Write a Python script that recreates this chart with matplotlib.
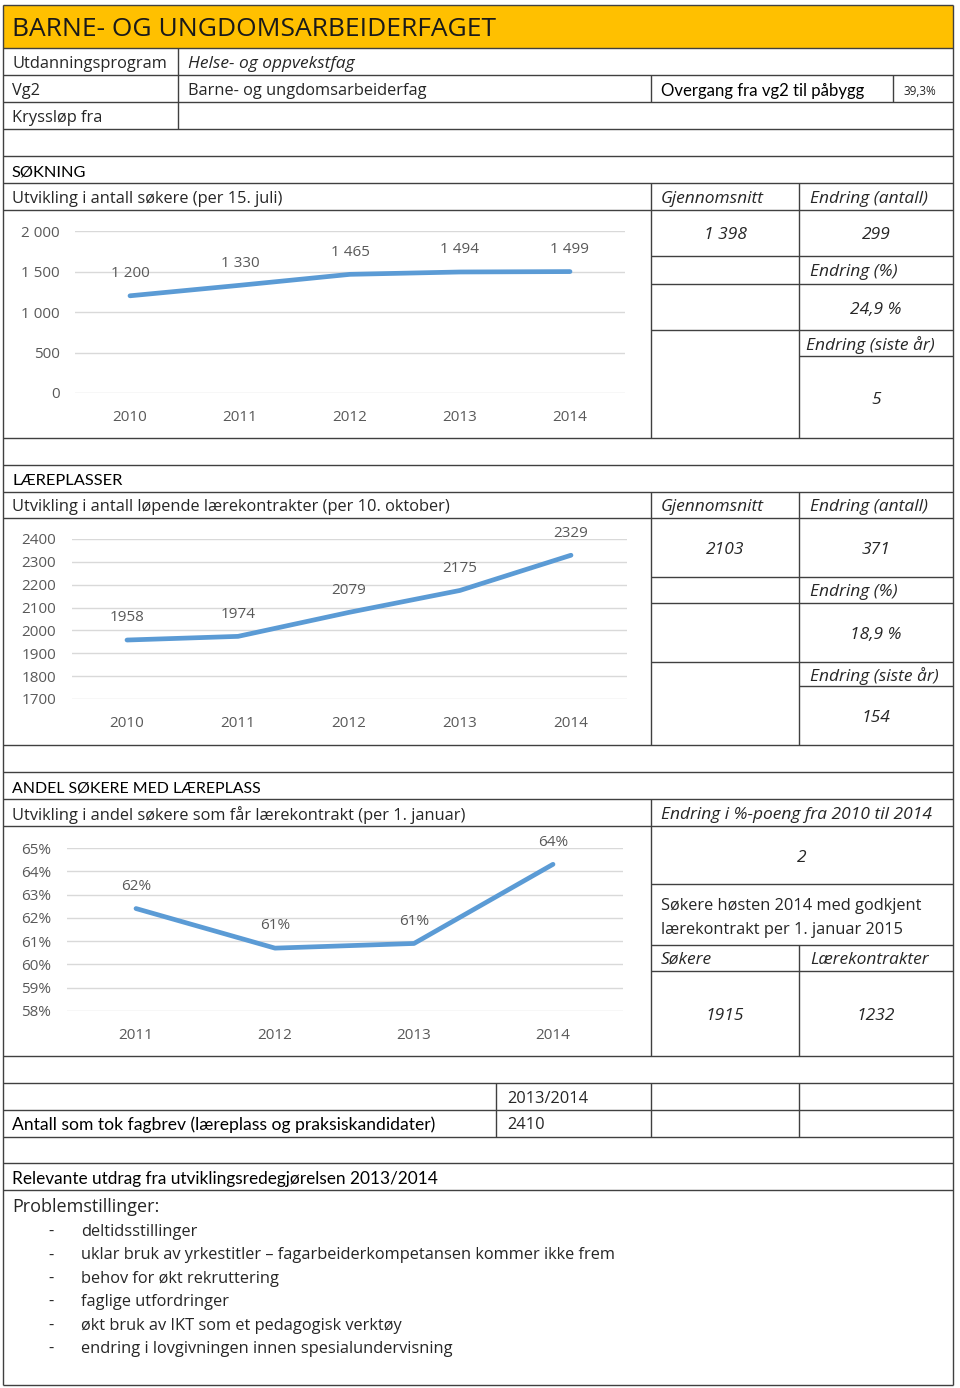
import matplotlib
matplotlib.use("Agg")
import matplotlib.pyplot as plt
from matplotlib.patches import Rectangle

# ---------------- data ----------------
years_sok = ["2010", "2011", "2012", "2013", "2014"]
sokere = [1200, 1330, 1465, 1494, 1499]
sok_ticks = [0, 500, 1000, 1500, 2000]

years_laer = ["2010", "2011", "2012", "2013", "2014"]
laerekontrakter = [1958, 1974, 2079, 2175, 2329]
laer_ticks = [1700, 1800, 1900, 2000, 2100, 2200, 2300, 2400]

years_andel = ["2011", "2012", "2013", "2014"]
andel = [62.4, 60.7, 60.9, 64.3]
andel_ticks = [58, 59, 60, 61, 62, 63, 64, 65]

bullets = [
    "deltidsstillinger",
    "uklar bruk av yrkestitler \u2013 fagarbeiderkompetansen kommer ikke frem",
    "behov for økt rekruttering",
    "faglige utfordringer",
    "økt bruk av IKT som et pedagogisk verktøy",
    "endring i lovgivningen innen spesialundervisning",
]

# ---------------- style ----------------
W, H = 960, 1388
BODY = "Open Sans"
HEAD = "Lato"
TXT = "#262626"
LINEC = "#404040"
BLUE = "#5B9BD5"
GRAY = "#595959"
GRID = "#D9D9D9"
FS = 11.8
FSI = 12.5
HS = 12.3
DY = 2

fig = plt.figure(figsize=(W / 100, H / 100), dpi=100)
bg = fig.add_axes([0, 0, 1, 1])
bg.set_xlim(0, W)
bg.set_ylim(H, 0)
bg.axis("off")

L, R = 3, 953


def hl(y, x0=L, x1=R):
    bg.plot([x0, x1], [y, y], color=LINEC, lw=1.0, solid_capstyle="butt", zorder=3)


def vl(x, y0, y1):
    bg.plot([x, x], [y0, y1], color=LINEC, lw=1.0, solid_capstyle="butt", zorder=3)


def t(x, y, s, size=None, italic=False, ha="left", family=BODY, color=TXT, **kw):
    if size is None:
        size = FSI if italic else FS
    bg.text(x, y + DY, s, fontsize=size, ha=ha, va="center", family=family,
            style="italic" if italic else "normal", color=color, **kw)


def hd(x, y, s, size=HS):
    t(x, y, s, size=size, family=HEAD, color="#000")


# title band
bg.add_patch(Rectangle((L, 5), R - L, 43, facecolor="#FFC000", edgecolor="none", zorder=1))
t(12, 27, "BARNE- OG UNGDOMSARBEIDERFAGET", size=19, color="#1a1a1a")

# outer frame
hl(5)
hl(1385)
vl(L, 5, 1385)
vl(R, 5, 1385)

# full-width row lines
for y in [48, 75, 102, 129, 156, 183, 210, 438, 465, 492, 518, 745, 772, 799, 826,
          1056, 1083, 1110, 1137, 1163, 1190]:
    hl(y)

# header rows
vl(178, 48, 129)
vl(651, 75, 102)
vl(893, 75, 102)
t(12, 62, "Utdanningsprogram")
t(188, 62, "Helse- og oppvekstfag", italic=True, size=12.5)
t(12, 89, "Vg2")
t(188, 89, "Barne- og ungdomsarbeiderfag")
hd(661, 89, "Overgang fra vg2 til påbygg", size=12.1)
t(903, 89, "39,3%", size=8.5)
t(12, 116, "Kryssløp fra")

# ---- section 1 : SØKNING ----
hd(12, 170, "SØKNING", size=11.8)
t(12, 197, "Utvikling i antall søkere (per 15. juli)")
t(661, 197, "Gjennomsnitt", italic=True)
t(810, 197, "Endring (antall)", italic=True)
vl(651, 183, 438)
vl(799, 183, 438)
hl(256, 651)
hl(284, 651)
hl(330, 651)
hl(356, 799)
t(725, 233, "1 398", italic=True, ha="center")
t(876, 233, "299", italic=True, ha="center")
t(810, 270, "Endring (%)", italic=True)
t(876, 308, "24,9 %", italic=True, ha="center")
t(806, 343, "Endring (siste år)", italic=True)
t(876, 398, "5", italic=True, ha="center")

# ---- section 2 : LÆREPLASSER ----
hd(12, 479, "LÆREPLASSER", size=11.8)
t(12, 505, "Utvikling i antall løpende lærekontrakter (per 10. oktober)")
t(661, 505, "Gjennomsnitt", italic=True)
t(810, 505, "Endring (antall)", italic=True)
vl(651, 492, 745)
vl(799, 492, 745)
hl(577, 651)
hl(603, 651)
hl(662, 651)
hl(686, 799)
t(725, 548, "2103", italic=True, ha="center")
t(876, 548, "371", italic=True, ha="center")
t(810, 590, "Endring (%)", italic=True)
t(876, 633, "18,9 %", italic=True, ha="center")
t(810, 674, "Endring (siste år)", italic=True)
t(876, 716, "154", italic=True, ha="center")

# ---- section 3 : ANDEL ----
hd(12, 786, "ANDEL SØKERE MED LÆREPLASS", size=11.4)
t(12, 813, "Utvikling i andel søkere som får lærekontrakt (per 1. januar)")
t(661, 813, "Endring i %-poeng fra 2010 til 2014", italic=True)
vl(651, 799, 1056)
vl(799, 945, 1056)
hl(884, 651)
hl(945, 651)
hl(971, 651)
t(802, 856, "2", italic=True, ha="center")
t(661, 904, "Søkere høsten 2014 med godkjent")
t(661, 928, "lærekontrakt per 1. januar 2015")
t(661, 958, "Søkere", italic=True)
t(810, 958, "Lærekontrakter", italic=True)
t(725, 1014, "1915", italic=True, ha="center")
t(876, 1014, "1232", italic=True, ha="center")

# ---- section 4 ----
vl(496, 1083, 1137)
vl(651, 1083, 1137)
vl(799, 1083, 1137)
t(507, 1097, "2013/2014")
hd(12, 1123, "Antall som tok fagbrev (læreplass og praksiskandidater)", size=12.6)
t(507, 1123, "2410")
hd(12, 1177, "Relevante utdrag fra utviklingsredegjørelsen 2013/2014", size=12.4)
t(12, 1205, "Problemstillinger:", size=13.0)
for i, b in enumerate(bullets):
    y = 1230 + 23.4 * i
    t(48, y, "-")
    t(81, y, b)


# ---------------- charts ----------------
def chart(x0, x1, ytop, ybot, cats, vals, ticks, ylim, tickfmt, labfmt):
    ax = fig.add_axes([x0 / W, 1 - ybot / H, (x1 - x0) / W, (ybot - ytop) / H])
    n = len(cats)
    xs = list(range(n))
    ax.set_xlim(-0.5, n - 0.5)
    ax.set_ylim(*ylim)
    ax.set_yticks(ticks)
    ax.set_yticklabels([tickfmt(v) for v in ticks])
    ax.set_xticks(xs)
    ax.set_xticklabels(cats)
    for v in ticks:
        ax.axhline(v, color=GRID, lw=1.0, zorder=1)
    for s in ax.spines.values():
        s.set_visible(False)
    ax.tick_params(length=0, colors=GRAY, labelsize=11)
    ax.tick_params(axis="y", pad=11)
    ax.tick_params(axis="x", pad=12)
    for lab in ax.get_xticklabels() + ax.get_yticklabels():
        lab.set_family(BODY)
    ax.patch.set_alpha(0)
    ax.plot(xs, vals, color=BLUE, lw=3.4, solid_capstyle="round", zorder=3, clip_on=False)
    for xi, v in zip(xs, vals):
        ax.annotate(labfmt(v), (xi, v), xytext=(0, 16), textcoords="offset points",
                    ha="center", va="center", fontsize=11, color=GRAY, family=BODY,
                    annotation_clip=False)
    return ax


def sp(v):
    return format(int(v), ",").replace(",", " ")


chart(75, 625, 231, 393, years_sok, sokere, sok_ticks, (0, 2000), sp, sp)
chart(71.5, 626.5, 539, 699, years_laer, laerekontrakter, laer_ticks, (1700, 2400),
      lambda v: str(v), lambda v: str(v))
chart(66.5, 622.5, 848, 1011, years_andel, andel, andel_ticks, (58, 65),
      lambda v: f"{v}%", lambda v: f"{v:.0f}%")

fig.savefig("out.png", dpi=100)
